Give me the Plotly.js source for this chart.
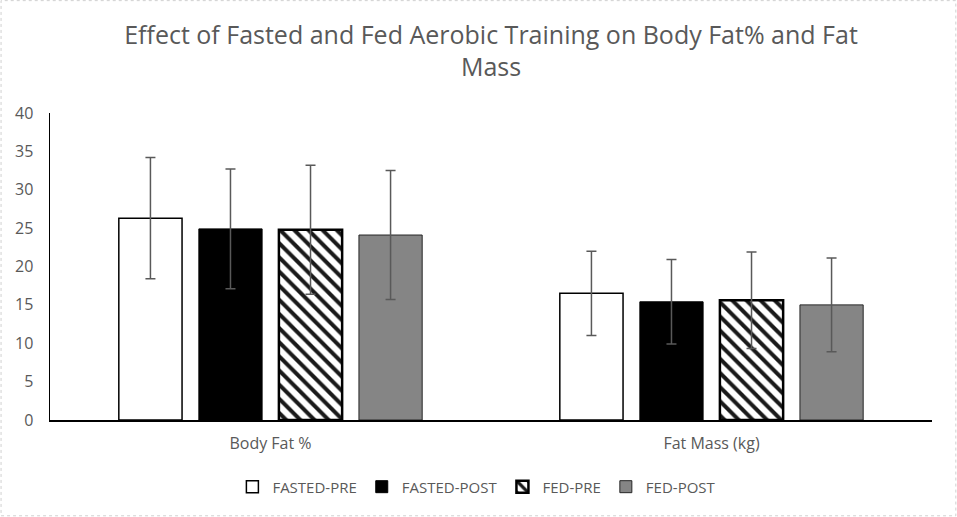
<!DOCTYPE html>
<html>
<head>
<meta charset="utf-8">
<script src="https://cdn.plot.ly/plotly-3.0.1.min.js"></script>
<style>
  html, body { margin: 0; padding: 0; background: #fff; }
  #chart { width: 957px; height: 517px; }
</style>
</head>
<body>
<div id="chart"></div>
<script>
// values
var categories = ['Body Fat %', 'Fat Mass (kg)'];
var fastedPre = [26.3, 16.5];
var fastedPreErr = [7.9, 5.5];
var fastedPost = [24.9, 15.4];
var fastedPostErr = [7.8, 5.5];
var fedPre = [24.8, 15.6];
var fedPreErr = [8.4, 6.3];
var fedPost = [24.1, 15.0];
var fedPostErr = [8.4, 6.1];
var yTicks = [0, 5, 10, 15, 20, 25, 30, 35, 40];

var font = '"Open Sans", "Liberation Sans", sans-serif';
var grey = '#595959';

function errBar(arr) {
  return { type: 'data', array: arr, visible: true, color: grey, thickness: 1.5, width: 5 };
}

var preTrace = {
  x: categories, y: fastedPre, name: 'FASTED-PRE', type: 'bar',
  marker: { color: '#ffffff', line: { color: '#000000', width: 1.5 } },
  error_y: errBar(fastedPreErr)
};
var postTrace = {
  x: categories, y: fastedPost, name: 'FASTED-POST', type: 'bar',
  marker: { color: '#000000', line: { color: '#000000', width: 1 } },
  error_y: errBar(fastedPostErr)
};
var fedPreTrace = {
  x: categories, y: fedPre, name: 'FED-PRE', type: 'bar',
  marker: {
    color: '#ffffff',
    line: { color: '#000000', width: 2.5 },
    pattern: { shape: '\\', fgcolor: '#1a1a1a', bgcolor: '#ffffff', size: 10, solidity: 0.4 }
  },
  error_y: errBar(fedPreErr)
};
var fedPostTrace = {
  x: categories, y: fedPost, name: 'FED-POST', type: 'bar',
  marker: { color: '#858585', line: { color: '#262626', width: 1 } },
  error_y: errBar(fedPostErr)
};

var data = [preTrace, postTrace, fedPreTrace, fedPostTrace];

var layout = {
  width: 957,
  height: 517,
  margin: { l: 50, r: 25, t: 113, b: 97 },
  paper_bgcolor: '#ffffff',
  plot_bgcolor: '#ffffff',
  font: { family: font, color: grey },
  title: {
    text: 'Effect of Fasted and Fed Aerobic Training on Body Fat% and Fat<br>Mass',
    font: { family: font, size: 25, color: grey },
    x: 0.5, xref: 'paper', xanchor: 'center',
    y: 0.915, yref: 'container', yanchor: 'top'
  },
  barmode: 'group',
  bargap: 0.274,
  bargroupgap: 0.21,
  showlegend: true,
  legend: {
    orientation: 'h',
    x: 0.484, xanchor: 'center',
    y: -0.218, yanchor: 'middle',
    font: { family: font, size: 15, color: grey },
    traceorder: 'normal',
    itemwidth: 30
  },
  xaxis: {
    showline: true, linecolor: '#000000', linewidth: 1.5,
    showgrid: false, ticks: '', zeroline: false,
    ticklabelstandoff: 8,
    tickfont: { family: font, size: 16, color: grey }
  },
  yaxis: {
    range: [0, 40],
    tickvals: yTicks,
    showline: true, linecolor: '#000000', linewidth: 1.5,
    showgrid: false, ticks: '', zeroline: false,
    ticklabelstandoff: 12,
    tickfont: { family: font, size: 16, color: grey }
  },
  shapes: [{
    type: 'rect', xref: 'paper', yref: 'paper',
    x0: -0.0555, x1: 1.027, y0: -0.312, y1: 1.366,
    line: { color: '#d0d0d0', width: 1, dash: 'dot' }
  }]
};

Plotly.newPlot('chart', data, layout, { displayModeBar: false, staticPlot: true });
</script>
</body>
</html>
